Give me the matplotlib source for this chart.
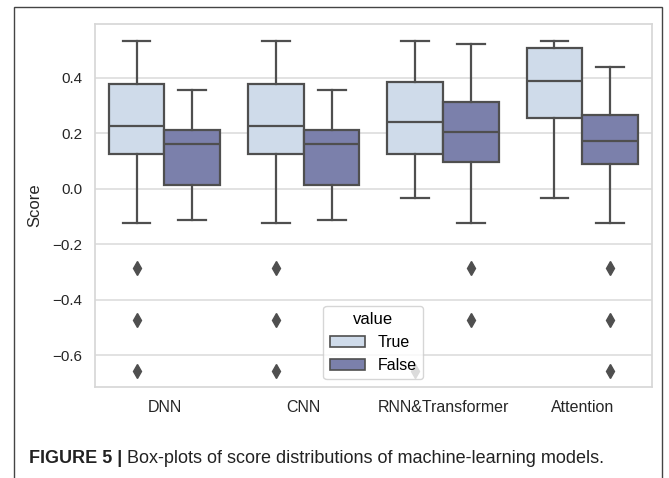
import matplotlib
matplotlib.use("Agg")
import matplotlib.pyplot as plt
from matplotlib.patches import Patch, Rectangle

plt.rcParams['font.family'] = ['Liberation Sans', 'DejaVu Sans']

# box statistics
categories = ["DNN", "CNN", "RNN&Transformer", "Attention"]
hue_levels = ["True", "False"]

true_whislo = [-0.124, -0.124, -0.032, -0.032]
true_q1 = [0.126, 0.126, 0.125, 0.254]
true_med = [0.226, 0.226, 0.242, 0.388]
true_q3 = [0.378, 0.378, 0.384, 0.508]
true_whishi = [0.534, 0.534, 0.534, 0.534]
true_fliers = [[-0.286, -0.474, -0.655], [-0.286, -0.474, -0.655], [-0.655], []]

false_whislo = [-0.111, -0.111, -0.124, -0.124]
false_q1 = [0.012, 0.012, 0.096, 0.090]
false_med = [0.162, 0.162, 0.206, 0.171]
false_q3 = [0.212, 0.212, 0.314, 0.267]
false_whishi = [0.355, 0.355, 0.522, 0.438]
false_fliers = [[], [], [-0.286, -0.474], [-0.286, -0.474, -0.655]]

colors = ["#cfdbea", "#7b80ab"]
line_gray = "#4f4f4f"

fig = plt.figure(figsize=(6.69, 4.78), dpi=100)
ax = fig.add_axes([0.1416, 0.1898, 0.8330, 0.7600])


def make_stats(whislo, q1, med, q3, whishi, fliers):
    return [dict(whislo=a, q1=b, med=c, q3=d, whishi=e, fliers=f)
            for a, b, c, d, e, f in zip(whislo, q1, med, q3, whishi, fliers)]


groups = [
    make_stats(true_whislo, true_q1, true_med, true_q3, true_whishi, true_fliers),
    make_stats(false_whislo, false_q1, false_med, false_q3, false_whishi, false_fliers),
]
offsets = [-0.2, 0.2]

for stats, off, col in zip(groups, offsets, colors):
    pos = [i + off for i in range(len(categories))]
    ax.bxp(stats, positions=pos, widths=0.4, patch_artist=True,
           boxprops=dict(facecolor=col, edgecolor=line_gray, linewidth=1.6),
           medianprops=dict(color=line_gray, linewidth=1.6),
           whiskerprops=dict(color=line_gray, linewidth=1.6),
           capprops=dict(color=line_gray, linewidth=1.6),
           flierprops=dict(marker='d', markerfacecolor=line_gray,
                           markeredgecolor=line_gray, markersize=7),
           manage_ticks=False)

ax.set_xlim(-0.5, len(categories) - 0.5)
ax.set_xticks(range(len(categories)))
ax.set_xticklabels(categories, fontsize=11.5)
ax.set_yticks([-0.6, -0.4, -0.2, 0.0, 0.2, 0.4])
ax.tick_params(axis='y', labelsize=11, length=0, pad=9, colors='#262626')
ax.tick_params(axis='x', length=0, pad=9, colors='#262626')
ax.yaxis.grid(True, color='#dddddd', linewidth=1.2)
ax.set_axisbelow(True)
for sp in ax.spines.values():
    sp.set_color('#d6d6d6')
    sp.set_linewidth(1.2)

ax.set_ylabel("Score", fontsize=12, color='#262626')
ax.yaxis.set_label_coords(-0.095, 0.5)

handles = [Patch(facecolor=c, edgecolor=line_gray, linewidth=1.2, label=l)
           for c, l in zip(colors, hue_levels)]
leg = ax.legend(handles=handles, title="value", loc='lower center',
                fontsize=11.5, title_fontsize=12, framealpha=0.8,
                edgecolor='#cccccc', handlelength=2.2)

# outer frame around the figure panel (open at the bottom)
fig.patches.append(Rectangle((14 / 669, -0.05), (662 - 14) / 669, 1.05 - 6.7 / 478,
                             transform=fig.transFigure, fill=False,
                             edgecolor='#444444', linewidth=1.0, clip_on=False))

# caption: bold lead-in followed by regular text
fig.canvas.draw()
renderer = fig.canvas.get_renderer()
cap_y = 1 - 463 / 478
bold = fig.text(28.6 / 669, cap_y, "FIGURE 5 |", fontsize=13, fontweight='bold',
                va='baseline', color='#222222')
bb = bold.get_window_extent(renderer)
fig.text((bb.x1 + 5) / 669, cap_y,
         "Box-plots of score distributions of machine-learning models.",
         fontsize=13, va='baseline', color='#222222')

fig.savefig("out.png", dpi=100)
